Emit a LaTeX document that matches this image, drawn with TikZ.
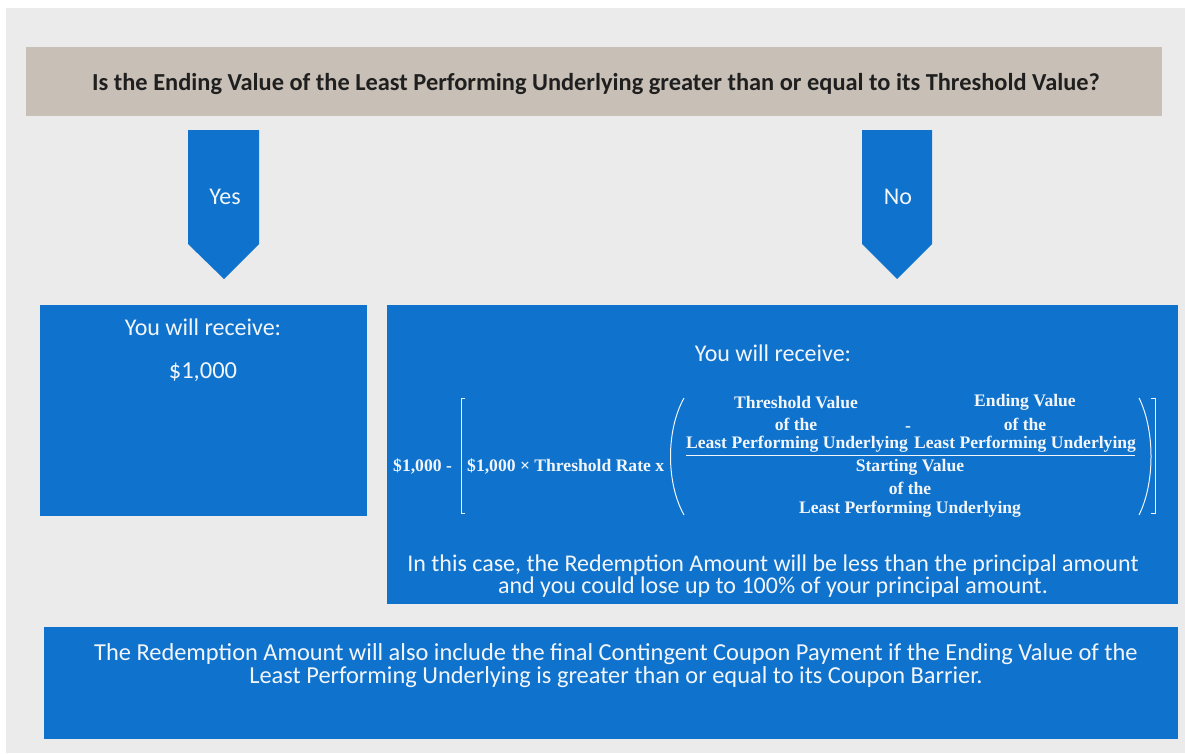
\documentclass[tikz,border=0pt]{standalone}
\usepackage{fontspec}
\setmainfont{Carlito}
\newfontfamily\fserif{Liberation Serif}
\definecolor{bggray}{HTML}{EBEBEB}
\definecolor{taupe}{HTML}{C8BFB7}
\definecolor{bblue}{HTML}{0F72CC}
\definecolor{wtext}{HTML}{F2F6FB}
\tikzset{
  box/.style={fill=bblue, draw=none, inner sep=0pt, anchor=north west},
  qbox/.style={fill=taupe, draw=none, inner sep=0pt, anchor=north west},
  wt/.style={text=wtext, inner sep=0pt},
  ft/.style={text=wtext, inner sep=0pt, font=\fserif\bfseries\fontsize{17.6}{20}\selectfont},
  arrowshape/.style={fill=bblue, draw=none},
  brk/.style={draw=wtext, line width=1pt},
}
\begin{document}
\begin{tikzpicture}[x=1pt,y=-1pt]
\useasboundingbox (0,0) rectangle (1185,753);
\fill[white] (0,0) rectangle (1185,753);
\fill[bggray] (6,8) rectangle (1185,753);
% question
\node[qbox, minimum width=1136pt, minimum height=69pt] (q) at (26,47) {};
\node[inner sep=0pt, font=\bfseries\fontsize{24.4}{28}\selectfont, text=black!88] (qt) at (596,84) {Is the Ending Value of the Least Performing Underlying greater than or equal to its Threshold Value?};
% arrows
\fill[arrowshape] (188,130) -- (259,130) -- (259,244) -- (224,279) -- (188,244) -- cycle;
\node[wt, font=\fontsize{24}{28}\selectfont] (yes) at (225,197) {Yes};
\fill[arrowshape] (862,130) -- (932,130) -- (932,244) -- (897,279) -- (862,244) -- cycle;
\node[wt, font=\fontsize{24}{28}\selectfont] (no) at (898,197) {No};
% left box
\node[box, minimum width=327pt, minimum height=211pt] (lb) at (40,305) {};
\node[wt, font=\fontsize{24}{28}\selectfont] (lr) at (203,327) {You will receive:};
\node[wt, font=\fontsize{24.5}{28}\selectfont] (lv) at (203,372) {\$1,000};
% right box
\node[box, minimum width=791pt, minimum height=299pt] (rb) at (387,305) {};
\node[wt, font=\fontsize{24}{28}\selectfont] (rr) at (773,353) {You will receive:};
% formula
\node[ft, anchor=west] (f1) at (393,466) {\$1,000 -};
\draw[brk] (465,398) -- (461,398) -- (461,513) -- (465,513);
\node[ft, anchor=west] (f2) at (467,466) {\$1,000 × Threshold Rate x};
\draw[brk] (684,398) .. controls (666,430) and (666,483) .. (684,515);
\node[ft] (n1a) at (796,403) {Threshold Value};
\node[ft] (n1b) at (796,424) {of the};
\node[ft] (n1c) at (797,444) {Least Performing Underlying};
\node[ft, anchor=base] (mn) at (908,431) {-};
\node[ft] (n2a) at (1025,402) {Ending Value};
\node[ft] (n2b) at (1025,424) {of the};
\node[ft] (n2c) at (1025,444) {Least Performing Underlying};
\draw[draw=wtext, line width=0.8pt] (686,455) -- (1135,455);
\node[ft] (d1) at (910,467) {Starting Value};
\node[ft] (d2) at (910,488) {of the};
\node[ft] (d3) at (910,509) {Least Performing Underlying};
\draw[brk] (1139,398) .. controls (1155,430) and (1155,483) .. (1139,515);
\draw[brk] (1151,398) -- (1155,398) -- (1155,513) -- (1151,513);
\node[wt, font=\fontsize{24}{22}\selectfont, align=center] (note) at (773,576) {In this case, the Redemption Amount will be less than the principal amount\\and you could lose up to 100\% of your principal amount.};
% bottom box
\node[box, minimum width=1134pt, minimum height=112pt] (bb) at (44,627) {};
\node[wt, font=\fontsize{24.4}{23}\selectfont, align=center] (bt) at (616,666) {The Redemption Amount will also include the final Contingent Coupon Payment if the Ending Value of the\\Least Performing Underlying is greater than or equal to its Coupon Barrier.};
\end{tikzpicture}
\end{document}
